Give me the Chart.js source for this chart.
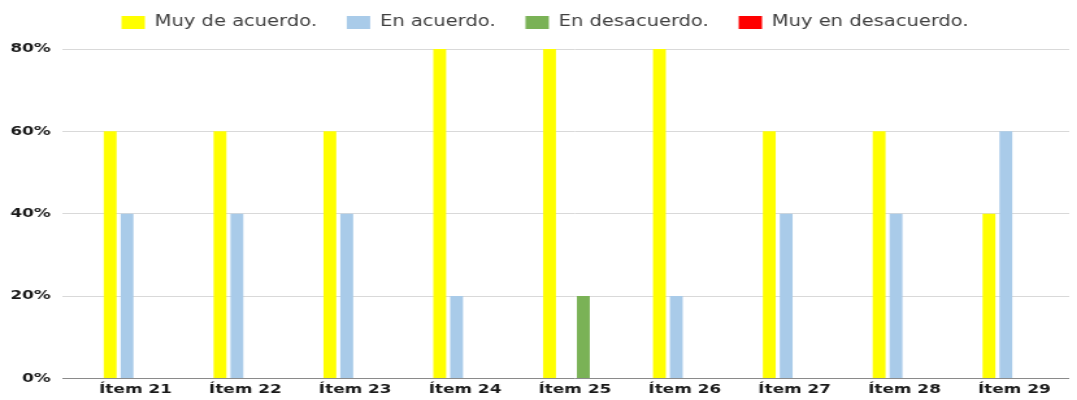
<!DOCTYPE html>
<html><head><meta charset="utf-8">
<script src="https://cdn.jsdelivr.net/npm/chart.js@4"></script>
<style>
html,body{margin:0;padding:0;background:#fff;overflow:hidden;width:1077px;height:400px}
#wrap{width:829px;height:400px;transform:scaleX(1.2992);transform-origin:0 0}
</style>
</head><body><div id="wrap"><canvas id="c" width="829" height="400"></canvas></div>
<script>
const categories = ['Ítem 21','Ítem 22','Ítem 23','Ítem 24','Ítem 25','Ítem 26','Ítem 27','Ítem 28','Ítem 29'];
const muyDeAcuerdo = [0.6,0.6,0.6,0.8,0.8,0.8,0.6,0.6,0.4];
const enAcuerdo = [0.4,0.4,0.4,0.2,0,0.2,0.4,0.4,0.6];
const enDesacuerdo = [0,0,0,0,0.2,0,0,0,0];
const muyEnDesacuerdo = [0,0,0,0,0,0,0,0,0];
const seriesNames = ['Muy de acuerdo.','En acuerdo.','En desacuerdo.','Muy en desacuerdo.'];
const yTicks = [0,0.2,0.4,0.6,0.8];

const colors = ['#FFFF00','#A9CBE9','#7AB256','#FF0000'];
const data = [muyDeAcuerdo, enAcuerdo, enDesacuerdo, muyEnDesacuerdo];

const legendTweak = {
  id: 'legendTweak',
  beforeLayout(chart) {
    const lg = chart.legend;
    if (lg && !lg._tw) {
      lg._tw = true;
      const f = lg.fit.bind(lg);
      lg.fit = function() { f(); this.height = 49; };
      const d = lg.draw.bind(lg);
      lg.draw = function() { const c = this.ctx; c.save(); c.translate(8, -8); d(); c.restore(); };
    }
  }
};

new Chart(document.getElementById('c'), {
  type: 'bar',
  data: {
    labels: categories,
    datasets: seriesNames.map((n,i)=>({
      label: n, data: data[i], backgroundColor: colors[i], borderWidth: 0,
      categoryPercentage: 0.615, barPercentage: 0.76
    }))
  },
  plugins: [legendTweak],
  options: {
    responsive: false, animation: false, devicePixelRatio: 1,
    layout: {padding: {left: 0, right: 6, top: 0, bottom: 0}},
    plugins: {
      tooltip: {enabled: false},
      legend: {
        position: 'top',
        labels: {
          boxWidth: 18, boxHeight: 13, padding: 23,
          font: {family: "'DejaVu Sans',sans-serif", size: 15},
          color: '#404040'
        }
      }
    },
    scales: {
      x: {
        grid: {display: false, drawTicks: false},
        border: {display: false},
        ticks: {font: {family: "'DejaVu Sans',Verdana,sans-serif", size: 13, weight: 'bold'}, color: '#1a1a1a', padding: 3, maxRotation: 0}
      },
      y: {
        min: 0, max: 0.8,
        afterFit: s => { s.width = 62; },
        afterBuildTicks: s => { s.ticks = yTicks.map(v=>({value:v})); },
        grid: {color: c => (c.tick && c.tick.value === 0) ? '#8a8a8a' : '#d9d9d9', tickLength: 14, drawTicks: true},
        border: {display: false},
        ticks: {
          font: {family: "'DejaVu Sans',Verdana,sans-serif", size: 13, weight: 'bold'}, color: '#1a1a1a', padding: 9,
          callback: v => Math.round(v*100) + '%'
        }
      }
    }
  }
});
</script></body></html>
